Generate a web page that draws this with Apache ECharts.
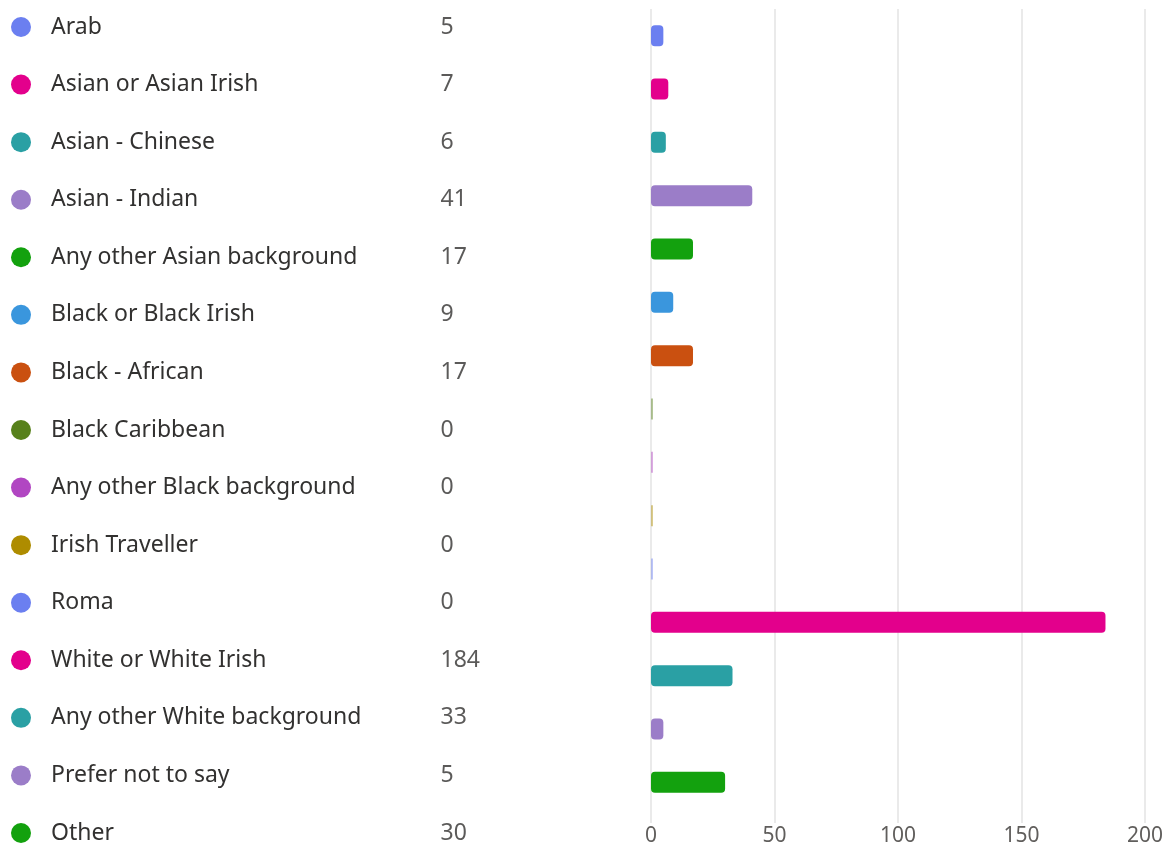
<!DOCTYPE html>
<html>
<head>
<meta charset="utf-8">
<script src="https://cdn.jsdelivr.net/npm/echarts@6/dist/echarts.min.js"></script>
<style>
  html, body { margin: 0; padding: 0; background: #ffffff; }
  #chart { width: 1167px; height: 848px; }
</style>
</head>
<body>
<div id="chart"></div>
<script>
// Response categories and counts
const categories = [
  'Arab', 'Asian or Asian Irish', 'Asian - Chinese', 'Asian - Indian',
  'Any other Asian background', 'Black or Black Irish', 'Black - African',
  'Black Caribbean', 'Any other Black background', 'Irish Traveller', 'Roma',
  'White or White Irish', 'Any other White background', 'Prefer not to say', 'Other'
];
const counts = [5, 7, 6, 41, 17, 9, 17, 0, 0, 0, 0, 184, 33, 5, 30];
const colors = [
  '#6b7ff0', '#e3008c', '#2aa0a4', '#9b7dc8', '#13a10e', '#3a96dd', '#ca5010',
  '#57811b', '#b146c2', '#ae8c00', '#6b7ff0', '#e3008c', '#2aa0a4', '#9b7dc8', '#13a10e'
];
const axisTicks = [0, 50, 100, 150, 200];

const FONT = '"Noto Sans", "Open Sans", sans-serif';
const TEXT = '#323130';

// left table: 1 x-unit = 1 pixel
const DOT_X = 21;
const VALUE_X = 440;

const chart = echarts.init(document.getElementById('chart'), null, { renderer: 'canvas' });

chart.setOption({
  animation: false,
  grid: [
    { left: 0, width: 600, top: 27, bottom: 15 },
    { left: 651, right: 22, top: 9, bottom: 39 }
  ],
  xAxis: [
    { gridIndex: 0, type: 'value', min: 0, max: 600, show: false },
    {
      gridIndex: 1, type: 'value', min: 0, max: 200, interval: 50,
      axisLine: { show: false },
      axisTick: { show: true, length: 14, lineStyle: { color: '#e3e3e3', width: 1.5 } },
      splitLine: { show: true, lineStyle: { color: '#e3e3e3', width: 1.5 } },
      axisLabel: {
        margin: 17, fontSize: 21, color: '#605e5c', fontFamily: FONT,
        formatter: v => axisTicks.includes(v) ? String(v) : ''
      }
    }
  ],
  yAxis: [
    { gridIndex: 0, type: 'category', data: categories, inverse: true, boundaryGap: false, show: false },
    { gridIndex: 1, type: 'category', data: categories, inverse: true, show: false }
  ],
  series: [
    {
      type: 'scatter', xAxisIndex: 0, yAxisIndex: 0,
      symbol: 'circle', symbolSize: 20, silent: true,
      data: categories.map((c, i) => ({
        value: [DOT_X, c],
        itemStyle: { color: colors[i], opacity: 1 }
      })),
      label: {
        show: true, position: 'right', distance: 20,
        formatter: p => categories[p.dataIndex],
        fontSize: 23, color: TEXT, fontFamily: FONT
      }
    },
    {
      type: 'scatter', xAxisIndex: 0, yAxisIndex: 0,
      symbol: 'circle', symbolSize: 1, silent: true,
      itemStyle: { color: 'rgba(0,0,0,0)' },
      data: categories.map((c, i) => ({ value: [VALUE_X, c] })),
      label: {
        show: true, position: 'right', distance: 0,
        formatter: p => String(counts[p.dataIndex]),
        fontSize: 23, color: TEXT, fontFamily: FONT
      }
    },
    {
      type: 'bar', xAxisIndex: 1, yAxisIndex: 1,
      barWidth: 21, barMinHeight: 2,
      data: counts.map((v, i) => ({
        value: v,
        itemStyle: {
          color: colors[i],
          borderRadius: v === 0 ? 0 : 4,
          opacity: v === 0 ? 0.45 : 1
        }
      }))
    }
  ]
});
</script>
</body>
</html>
